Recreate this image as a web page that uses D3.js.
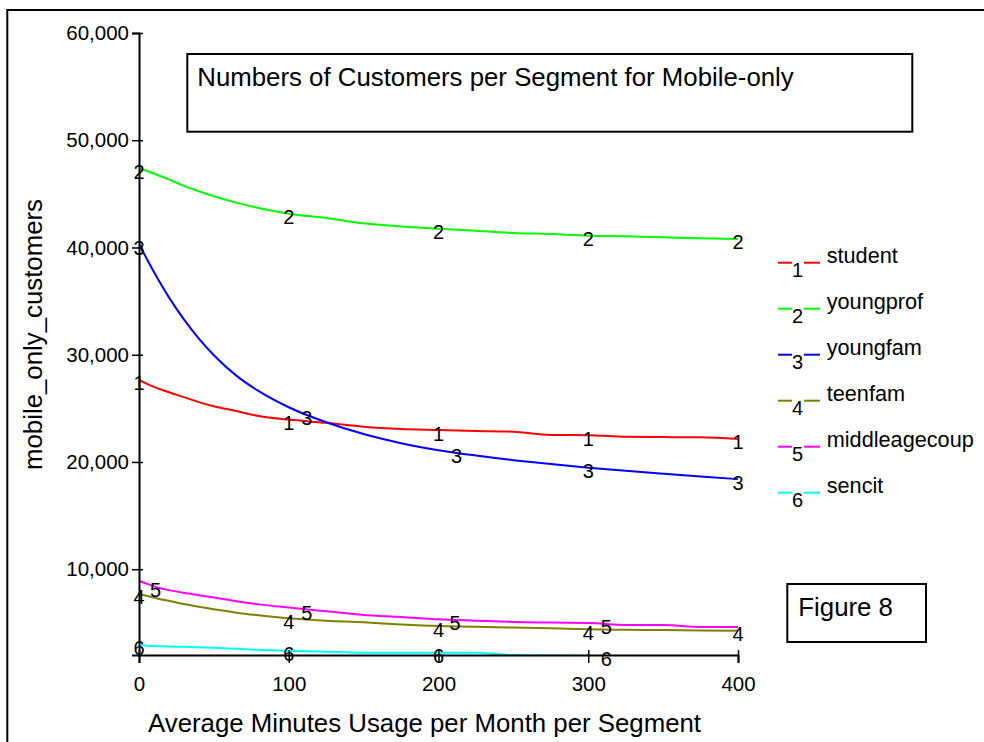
<!DOCTYPE html>
<html>
<head>
<meta charset="utf-8">
<script src="https://cdn.jsdelivr.net/npm/d3@7"></script>
<style>
  html, body { margin: 0; padding: 0; background: #fff; }
  svg { display: block; font-family: "Liberation Sans", Arial, Helvetica, sans-serif; }
</style>
</head>
<body>
<svg id="chart" width="984" height="742"></svg>
<script>
// ---------- data ----------
const segments = ["student", "youngprof", "youngfam", "teenfam", "middleagecoup", "sencit"];
const minutes = [0, 5, 10, 15, 20, 30, 40, 50, 65, 80, 100, 125, 150, 175, 200, 225, 250, 275, 300, 325, 350, 375, 400];
const student =       [27650, 27300, 27000, 26750, 26500, 26050, 25580, 25200, 24750, 24280, 23950, 23650, 23280, 23070, 22980, 22890, 22820, 22510, 22500, 22350, 22320, 22300, 22150];
const youngprof =     [47400, 47150, 46900, 46620, 46350, 45750, 45250, 44780, 44180, 43680, 43150, 42750, 42250, 41950, 41750, 41550, 41350, 41250, 41100, 41050, 40950, 40850, 40800];
const youngfam =      [40300, 39000, 37720, 36500, 35350, 33300, 31500, 29950, 28050, 26600, 25100, 23700, 22600, 21750, 21100, 20600, 20170, 19800, 19470, 19170, 18900, 18640, 18400];
const teenfam =       [7700, 7520, 7350, 7180, 7050, 6750, 6500, 6270, 5950, 5700, 5420, 5200, 5050, 4850, 4700, 4640, 4560, 4490, 4400, 4350, 4330, 4290, 4270];
const middleagecoup = [8930, 8650, 8400, 8200, 8050, 7800, 7580, 7370, 7020, 6720, 6420, 6080, 5740, 5550, 5330, 5200, 5080, 5020, 4990, 4800, 4790, 4620, 4610];
const sencit =        [3000, 2870, 2840, 2820, 2800, 2760, 2720, 2680, 2580, 2480, 2400, 2300, 2220, 2210, 2210, 2205, 1990, 1950, 1920, 1900, 1880, 1860, 1850];
// x positions (minutes) where the series number labels sit on each curve
const labelMinutes = [
  [0, 100, 200, 300, 400],
  [0, 100, 200, 300, 400],
  [0, 112, 212, 300, 400],
  [0, 100, 200, 300, 400],
  [11, 112, 211, 312],
  [0, 100, 200, 312]
];
const xTicks = [0, 100, 200, 300, 400];
const yTicks = [10000, 20000, 30000, 40000, 50000, 60000];
const titleText = "Numbers of Customers per Segment for Mobile-only";
const xTitle = "Average Minutes Usage per Month per Segment";
const yTitle = "mobile_only_customers";
const figureText = "Figure 8";

// ---------- styles ----------
const colors = ["#ff0000", "#00ff00", "#0000ff", "#808000", "#ff00ff", "#00ffff"];
const seriesValues = [student, youngprof, youngfam, teenfam, middleagecoup, sencit];

const svg = d3.select("#chart");
const x = d3.scaleLinear().domain([0, 400]).range([139, 738]);
const y = d3.scaleLinear().domain([2000, 60000]).range([655, 33]);

// outer frame
svg.append("rect").attr("x", 7.3).attr("y", 10).attr("width", 1100).attr("height", 900)
  .attr("fill", "none").attr("stroke", "#000").attr("stroke-width", 2);

// title box
svg.append("rect").attr("x", 187.3).attr("y", 54).attr("width", 725).attr("height", 77.7)
  .attr("fill", "#fff").attr("stroke", "#000").attr("stroke-width", 2);
svg.append("text").attr("x", 197.3).attr("y", 85.7).attr("font-size", 25.8).attr("fill", "#000").text(titleText);

// clip
svg.append("clipPath").attr("id", "plotclip").append("rect")
  .attr("x", 139).attr("y", 0).attr("width", 620).attr("height", 655);

const line = d3.line().x((d, i) => x(minutes[i])).y(d => y(d)).curve(d3.curveMonotoneX);

const gLines = svg.append("g").attr("clip-path", "url(#plotclip)");
seriesValues.forEach((vals, k) => {
  gLines.append("path").datum(vals).attr("d", line)
    .attr("fill", "none").attr("stroke", colors[k]).attr("stroke-width", 2);
});

// axes
const yAxis = d3.axisLeft(y).tickValues(yTicks).tickFormat(d3.format(",")).tickSizeOuter(0).tickSize(7);
const gy = svg.append("g").attr("transform", "translate(139,0)").call(yAxis);
gy.select(".domain").attr("stroke", "#000").attr("stroke-width", 2);
gy.selectAll(".tick line").attr("x1", 4).attr("x2", -7).attr("stroke-width", 1.5);
gy.selectAll(".tick text").attr("x", -10).attr("font-size", 20.5).attr("font-family", null).attr("fill", "#000");

const xAxis = d3.axisBottom(x).tickValues(xTicks).tickFormat(d3.format("d")).tickSizeOuter(0).tickSize(8);
const gx = svg.append("g").attr("transform", "translate(0,655)").call(xAxis);
gx.select(".domain").attr("stroke", "#000").attr("stroke-width", 2);
gx.selectAll(".tick line").attr("y1", -5).attr("y2", 8).attr("stroke-width", 1.5);
gx.selectAll(".tick text").attr("y", 36).attr("dy", 0).attr("font-size", 20.5).attr("font-family", null).attr("fill", "#000");

// curve number labels
function valueAt(vals, m) {
  for (let i = 0; i < minutes.length - 1; i++) {
    if (m >= minutes[i] && m <= minutes[i + 1]) {
      const t = (m - minutes[i]) / (minutes[i + 1] - minutes[i]);
      return vals[i] + t * (vals[i + 1] - vals[i]);
    }
  }
  return vals[vals.length - 1];
}
seriesValues.forEach((vals, k) => {
  labelMinutes[k].forEach(m => {
    svg.append("text")
      .attr("x", x(m)).attr("y", y(valueAt(vals, m)) + 3.5).attr("dy", "0.35em")
      .attr("text-anchor", "middle").attr("font-size", 20).attr("fill", "#000")
      .text(k + 1);
  });
});

// axis titles
svg.append("text").attr("x", 148).attr("y", 731.7).attr("font-size", 25.8).attr("fill", "#000").text(xTitle);
svg.append("text").attr("transform", "translate(42,470) rotate(-90)").attr("font-size", 25.8).attr("fill", "#000").text(yTitle);

// legend
const legend = svg.append("g");
segments.forEach((name, k) => {
  const ly = 262.7 + k * 46;
  legend.append("line").attr("x1", 778).attr("x2", 792).attr("y1", ly).attr("y2", ly)
    .attr("stroke", colors[k]).attr("stroke-width", 2);
  legend.append("line").attr("x1", 804).attr("x2", 820).attr("y1", ly).attr("y2", ly)
    .attr("stroke", colors[k]).attr("stroke-width", 2);
  legend.append("text").attr("x", 797.5).attr("y", ly + 14).attr("text-anchor", "middle")
    .attr("font-size", 20).attr("fill", "#000").text(k + 1);
  legend.append("text").attr("x", 826.7).attr("y", ly + 0.5).attr("font-size", 21.7)
    .attr("fill", "#000").text(name);
});

// figure box
svg.append("rect").attr("x", 787.3).attr("y", 584).attr("width", 138.7).attr("height", 58)
  .attr("fill", "#fff").attr("stroke", "#000").attr("stroke-width", 2);
svg.append("text").attr("x", 798.3).attr("y", 616).attr("font-size", 25.8).attr("fill", "#000").text(figureText);
</script>
</body>
</html>
